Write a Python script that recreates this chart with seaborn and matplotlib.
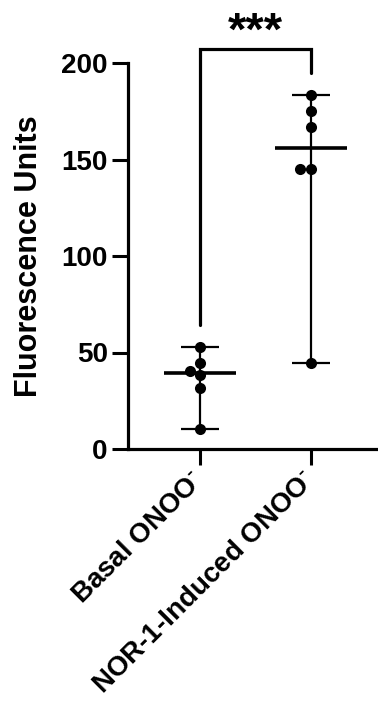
import numpy as np
import pandas as pd
import matplotlib
matplotlib.use("Agg")
import matplotlib.pyplot as plt
import seaborn as sns

# Measured fluorescence per replicate
groups = [r"Basal ONOO$^{\text{-}}$", r"NOR-1-Induced ONOO$^{\text{-}}$"]
basal_values = [53.0, 44.7, 40.6, 38.3, 31.4, 10.2]
induced_values = [183.4, 175.3, 167.0, 144.9, 144.9, 44.7]
y_ticks = [0, 50, 100, 150, 200]
y_label = "Fluorescence Units"
significance = "***"

sns.set_style("ticks")
plt.rcParams["font.family"] = ["Liberation Sans", "DejaVu Sans"]
plt.rcParams["font.weight"] = "bold"
plt.rcParams["mathtext.fontset"] = "custom"
plt.rcParams["mathtext.rm"] = "Liberation Sans:bold"
plt.rcParams["mathtext.bf"] = "Liberation Sans:bold"
plt.rcParams["mathtext.it"] = "Liberation Sans:bold"
for key in ("text.color", "axes.labelcolor", "xtick.color", "ytick.color",
            "axes.edgecolor"):
    plt.rcParams[key] = "black"

df = pd.DataFrame({
    "group": [groups[0]] * len(basal_values) + [groups[1]] * len(induced_values),
    "value": basal_values + induced_values,
})

fig = plt.figure(figsize=(3.78, 7.13), dpi=100)
ax = fig.add_axes([128 / 378, 1 - 449 / 713, 250 / 378, 386 / 713])

sns.swarmplot(data=df, x="group", y="value", order=groups, color="black",
              size=8, ax=ax, zorder=3)

# Median with range (min to max) for each group
for i, vals in enumerate([basal_values, induced_values]):
    med, lo, hi = np.median(vals), np.min(vals), np.max(vals)
    ax.vlines(i, lo, hi, color="black", lw=1.6, zorder=2)
    ax.hlines([lo, hi], i - 0.17, i + 0.17, color="black", lw=1.6, zorder=2)
    ax.hlines(med, i - 0.325, i + 0.325, color="black", lw=2.6, zorder=2)

# Significance bracket
ax.plot([0, 0, 1, 1], [64, 207.3, 207.3, 195], color="black", lw=2.3,
        clip_on=False, solid_joinstyle="miter")
ax.text(0.5, 204.5, significance, ha="center", va="bottom", fontsize=34,
        fontweight="bold", clip_on=False)

ax.set_xlim(-0.65, 1.6)
ax.set_ylim(0, 200)
ax.set_yticks(y_ticks)
ax.set_yticklabels([str(t) for t in y_ticks], fontsize=20, fontweight="bold")
ax.set_xticks([0, 1])
ax.set_xticklabels(groups, fontsize=20, fontweight="bold", rotation=45,
                   ha="right", va="center", rotation_mode="anchor")
ax.set_xlabel("")
ax.set_ylabel(y_label, fontsize=22, fontweight="bold")
ax.yaxis.set_label_coords(-0.336, 0.5)

for side in ("top", "right"):
    ax.spines[side].set_visible(False)
for side in ("left", "bottom"):
    ax.spines[side].set_linewidth(2.3)
ax.tick_params(axis="both", length=11.5, width=2.2, color="black")
ax.tick_params(axis="y", pad=3)
ax.tick_params(axis="x", pad=8)

fig.savefig("out.png", dpi=100)
